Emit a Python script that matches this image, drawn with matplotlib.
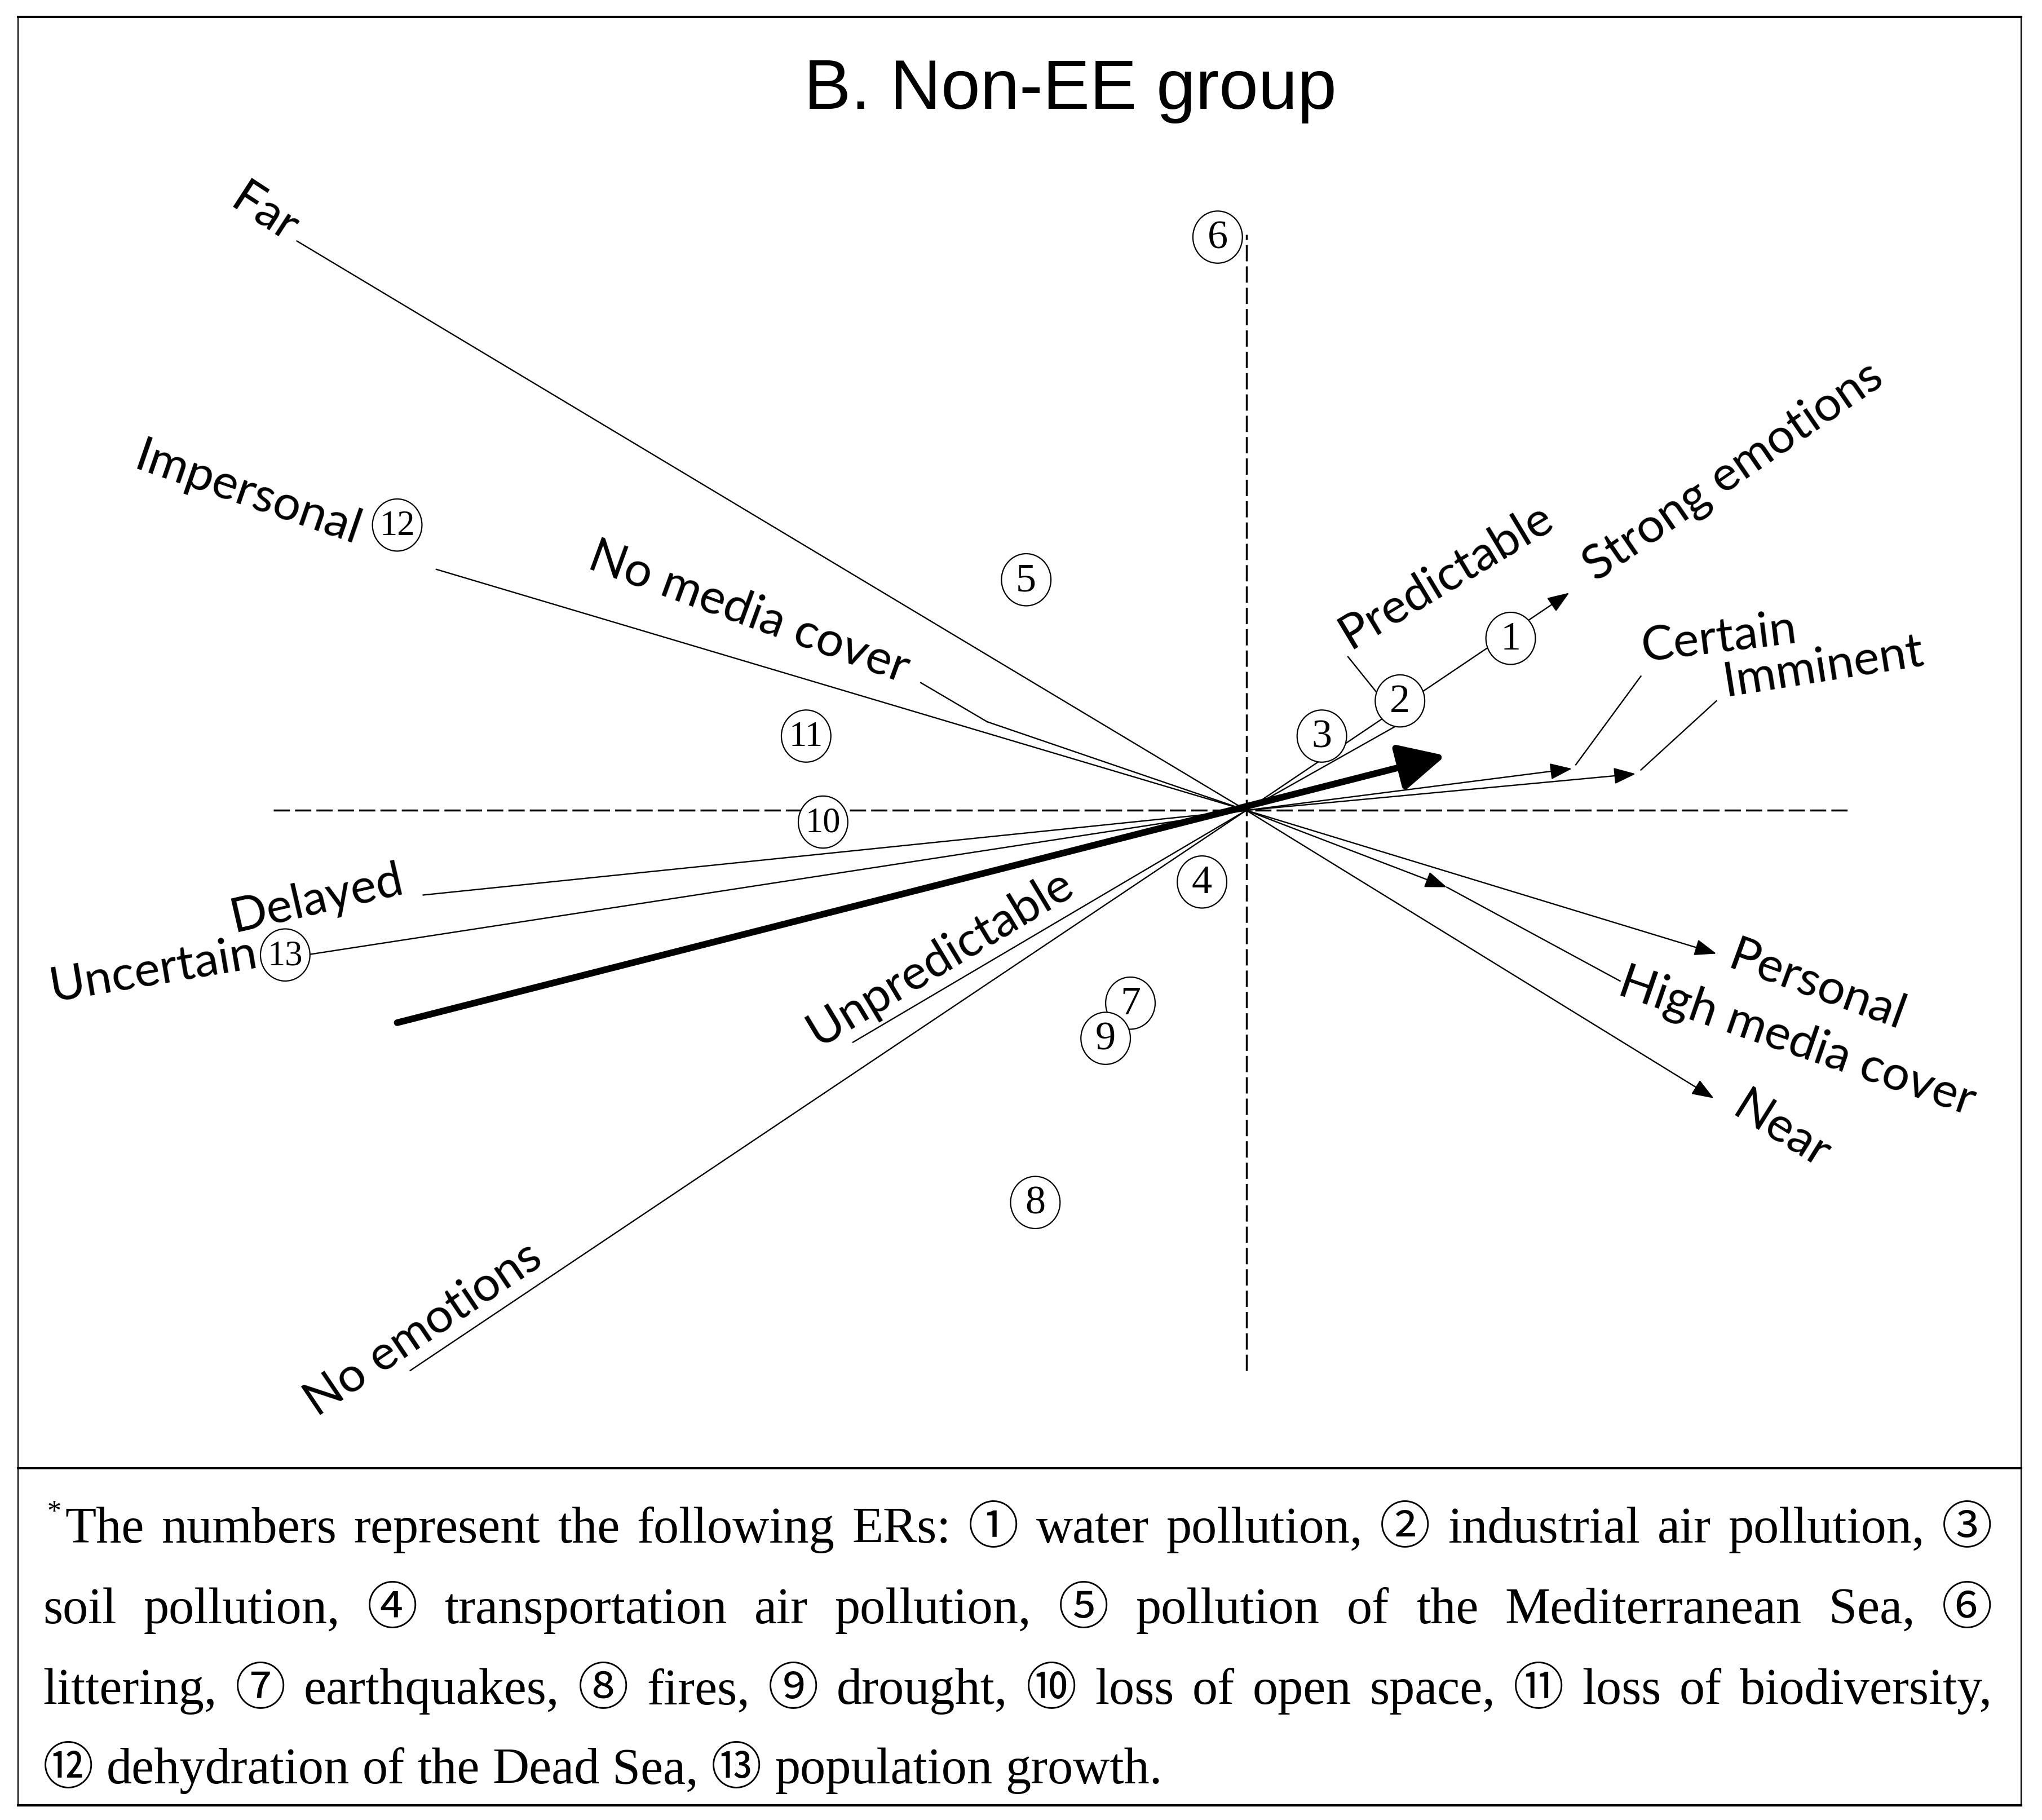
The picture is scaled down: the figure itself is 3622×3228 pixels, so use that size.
import matplotlib
matplotlib.use('Agg')
import matplotlib.pyplot as plt
from matplotlib.patches import Ellipse
from matplotlib.lines import Line2D

# attribute vectors, endpoint coordinates (origin at 0, 0)
vec_names = ['Far', 'Impersonal', 'No media cover', 'Delayed', 'Uncertain',
             'Unpredictable', 'No emotions', 'Predictable', 'Strong emotions',
             'Certain', 'Imminent', 'Personal', 'High media cover', 'Near']
vec_x = [-7.29, -6.22, -1.99, -6.32, -7.22, -3.02, -6.42,
         1.19, 2.48, 2.50, 2.99, 3.61, 1.54, 3.59]
vec_y = [4.37, 1.85, 0.68, -0.65, -1.11, -1.78, -4.30,
         0.67, 1.67, 0.32, 0.28, -1.10, -0.59, -2.21]
vec_arrow = [False, False, False, False, False, False, False,
             False, True, True, True, True, True, True]

# group direction (thick arrow)
main_start = (-6.52, -1.63)
main_end = (1.53, 0.42)

# environmental risks (circled numbers)
er_ids = [1, 2, 3, 4, 5, 6, 7, 8, 9, 10, 11, 12, 13]
er_x = [2.03, 1.18, 0.58, -0.34, -1.69, -0.22, -0.89, -1.62, -1.08, -3.25, -3.38, -6.52, -7.38]
er_y = [1.32, 0.84, 0.57, -0.55, 1.77, 4.40, -1.48, -3.01, -1.75, -0.09, 0.57, 2.19, -1.11]

title = 'B. Non-EE group'
foot_lines = [
    'The numbers represent the following ERs: \u2460 water pollution, \u2461 industrial air pollution, \u2462',
    'soil pollution, \u2463 transportation air pollution, \u2464 pollution of the Mediterranean Sea, \u2465',
    'littering, \u2466 earthquakes, \u2467 fires, \u2468 drought, \u2469 loss of open space, \u246a loss of biodiversity,',
    '\u246b dehydration of the Dead Sea, \u246c population growth.',
]

# layout: label centre (x, y) and rotation
label_pos = {
    'Far': (-7.54, 4.58, -33),
    'Impersonal': (-7.67, 2.43, -19),
    'No media cover': (-3.82, 1.52, -20),
    'Delayed': (-7.14, -0.68, 13),
    'Uncertain': (-8.39, -1.23, 9.5),
    'Unpredictable': (-2.35, -1.13, 31),
    'No emotions': (-6.32, -3.98, 34),
    'Predictable': (1.53, 1.80, 31),
    'Strong emotions': (3.74, 2.60, 34.5),
    'Certain': (3.63, 1.32, 7),
    'Imminent': (4.43, 1.10, 9),
    'Personal': (4.38, -1.35, -20),
    'High media cover': (4.23, -1.78, -19),
    'Near': (4.11, -2.46, -32),
}
# leader lines from labels to vectors: (x0, y0, x1, y1, arrow)
leaders = [
    (-2.50, 0.98, -1.99, 0.68, False),
    (0.78, 1.18, 1.19, 0.67, True),
    (3.03, 1.03, 2.53, 0.35, False),
    (3.61, 0.84, 3.03, 0.31, False),
    (2.87, -1.31, 1.54, -0.59, False),
]

LABEL_FONT = 'Lato'
SERIF = ['Liberation Serif', 'Noto Sans CJK JP']

fig = plt.figure(figsize=(36.22, 32.28), dpi=100)
ax = fig.add_axes([0, 0, 1, 1])
ax.set_xlim(-9.57, 6.11)
ax.set_ylim(-7.75, 6.22)
ax.axis('off')

# dashed axes
dash = (0, (8.3, 2.6))
ax.plot([-7.47, 4.65], [0, 0], color='k', lw=2.5, linestyle=dash)
ax.plot([0, 0], [-4.30, 4.42], color='k', lw=2.5, linestyle=dash)

small_head = '-|>,head_length=0.4,head_width=0.15'
for name, x, y, arr in zip(vec_names, vec_x, vec_y, vec_arrow):
    if arr:
        ax.annotate('', xy=(x, y), xytext=(0, 0),
                    arrowprops=dict(arrowstyle=small_head, lw=1.7, color='k',
                                    mutation_scale=60, shrinkA=0, shrinkB=0))
    else:
        ax.plot([0, x], [0, y], color='k', lw=1.7)
    lx, ly, rot = label_pos[name]
    ax.text(lx, ly, name, fontsize=62, family=LABEL_FONT, rotation=rot,
            rotation_mode='anchor', ha='center', va='center')

for x0, y0, x1, y1, arr in leaders:
    if arr:
        ax.annotate('', xy=(x1, y1), xytext=(x0, y0),
                    arrowprops=dict(arrowstyle=small_head, lw=1.7, color='k',
                                    mutation_scale=60, shrinkA=0, shrinkB=0))
    else:
        ax.plot([x0, x1], [y0, y1], color='k', lw=1.7)

# thick arrow
ax.annotate('', xy=main_end, xytext=main_start,
            arrowprops=dict(arrowstyle='-|>,head_length=0.5,head_width=0.25',
                            lw=8.5, color='k', mutation_scale=100,
                            shrinkA=0, shrinkB=0))

# circled ER numbers
for i, x, y in zip(er_ids, er_x, er_y):
    ax.add_patch(Ellipse((x, y), 0.38, 0.40, facecolor='white', edgecolor='k', lw=1.6, zorder=4))
    ax.text(x, y - 0.01, str(i), fontsize=52 if i < 10 else 45, family='Liberation Serif',
            ha='center', va='center', zorder=5)

# title
fig.text(0.5242, 0.950, title, fontsize=90, family='Liberation Sans', ha='center', va='center')

# frame
def fig_line(x, y, lw):
    fig.add_artist(Line2D(x, y, color='k', lw=lw, transform=fig.transFigure,
                          solid_capstyle='projecting'))

L, R, T, B, D = 0.0089, 0.9898, 0.9907, 0.0079, 0.1933
fig_line([L, R], [T, T], 3.0)
fig_line([L, R], [D, D], 3.0)
fig_line([L, R], [B, B], 3.0)
fig_line([L, L], [B, T], 1.6)
fig_line([R, R], [B, T], 1.6)

# footnote, justified lines
fig.canvas.draw()
renderer = fig.canvas.get_renderer()
FS = 65
fig_w = fig.bbox.width
space_w = FS * 0.25 * fig.dpi / 72 / fig_w
base_y = [0.1525, 0.1081, 0.0637, 0.0200]
x_start = [0.0319, 0.0210, 0.0210, 0.0210]
x_end = 0.9758

fig.text(0.0230, 0.1650, '*', fontsize=36, family='Liberation Serif', va='baseline')

for k, (line, y) in enumerate(zip(foot_lines, base_y)):
    words = line.split(' ')
    texts = [fig.text(0, y, w, fontsize=FS, family=SERIF, va='baseline') for w in words]
    widths = [t.get_window_extent(renderer).width / fig_w for t in texts]
    if k < len(foot_lines) - 1:
        gap = (x_end - x_start[k] - sum(widths)) / (len(words) - 1)
    else:
        gap = space_w
    x = x_start[k]
    for t, w in zip(texts, widths):
        t.set_x(x)
        x += w + gap

fig.savefig('out.png', dpi=100, facecolor='white')
